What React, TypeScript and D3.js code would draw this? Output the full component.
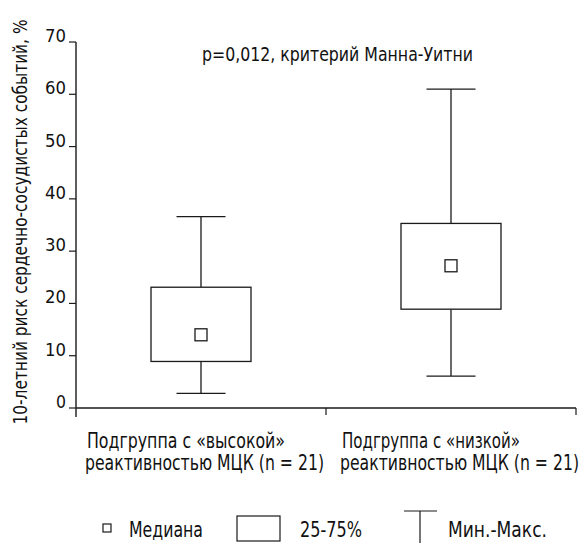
import React from 'react';
import * as d3 from 'd3';

// data
const groups = ['high', 'low'];
const groupLine1 = ['Подгруппа с «высокой»', 'Подгруппа с «низкой»'];
const groupLine2 = ['реактивностью МЦК (n = 21)', 'реактивностью МЦК (n = 21)'];
const mins = [2.8, 6.1];
const q1s = [8.9, 18.9];
const medians = [14.0, 27.2];
const q3s = [23.1, 35.3];
const maxs = [36.6, 61.0];
const yTicks = [0, 10, 20, 30, 40, 50, 60, 70];

const W = 582;
const H = 543;
const FONT = "'DejaVu Sans Condensed', 'DejaVu Sans', sans-serif";

// squeeze text to the width it takes in the reference (condensed face)
const T = ({ w, children, ...rest }: any) => (
  <text textLength={w} lengthAdjust="spacingAndGlyphs" {...rest}>{children}</text>
);

const App = () => {
  const margin = { top: 42, right: 6, bottom: 135, left: 76 };

  const y = d3.scaleLinear()
    .domain([0, 70])
    .range([H - margin.bottom, margin.top]);

  const x = d3.scaleBand()
    .domain(groups)
    .range([margin.left, W - margin.right])
    .padding(0);

  const boxW = 100;
  const capW = 49;
  const medS = 12;
  const stroke = '#1a1a1a';
  const y0 = y(0);
  const labelX = [85, 340];

  return (
    <svg width={W} height={H} style={{ position: 'absolute', left: 0, top: 0 }} fontFamily={FONT} fontStretch="condensed">
      <rect width={W} height={H} fill="#fff" />

      {/* y axis */}
      <line x1={margin.left} x2={margin.left} y1={y(70)} y2={y0 + 9} stroke={stroke} strokeWidth={1.4} />
      {yTicks.map(t => (
        <g key={t}>
          <line x1={margin.left - 7} x2={margin.left} y1={y(t)} y2={y(t)} stroke={stroke} strokeWidth={1.2} />
          <T x={margin.left - 10} y={y(t)} w={t === 0 ? 10 : 21} textAnchor="end" fontSize={18} fill="#111">{t}</T>
        </g>
      ))}
      <T w={405} transform={`translate(27,${222}) rotate(-90)`} textAnchor="middle" fontSize={20} fill="#111">
        10-летний риск сердечно-сосудистых событий, %
      </T>

      {/* x axis */}
      <line x1={margin.left} x2={W - margin.right} y1={y0} y2={y0} stroke={stroke} strokeWidth={1.4} />
      {groups.map(g => (
        <line key={g} x1={x(g)! + x.bandwidth()} x2={x(g)! + x.bandwidth()} y1={y0} y2={y0 + 7} stroke={stroke} strokeWidth={1.2} />
      ))}

      {/* boxes */}
      {groups.map((g, i) => {
        const cx = x(g)! + x.bandwidth() / 2;
        return (
          <g key={g} stroke={stroke} strokeWidth={1.3} fill="none">
            <line x1={cx} x2={cx} y1={y(maxs[i])} y2={y(q3s[i])} />
            <line x1={cx} x2={cx} y1={y(q1s[i])} y2={y(mins[i])} />
            <line x1={cx - capW / 2} x2={cx + capW / 2} y1={y(maxs[i])} y2={y(maxs[i])} />
            <line x1={cx - capW / 2} x2={cx + capW / 2} y1={y(mins[i])} y2={y(mins[i])} />
            <rect x={cx - boxW / 2} y={y(q3s[i])} width={boxW} height={y(q1s[i]) - y(q3s[i])} fill="#fff" />
            <rect x={cx - medS / 2} y={y(medians[i]) - medS / 2} width={medS} height={medS} fill="#fff" />
          </g>
        );
      })}

      {/* category labels */}
      {groups.map((g, i) => (
        <g key={g} fontSize={21} fill="#111">
          <T x={labelX[i] + 2} y={448} w={i === 0 ? 198 : 178}>{groupLine1[i]}</T>
          <T x={labelX[i]} y={470} w={239}>{groupLine2[i]}</T>
        </g>
      ))}

      <T x={202} y={61} w={271} fontSize={20} fill="#111">p=0,012, критерий Манна-Уитни</T>

      {/* legend */}
      <g fontSize={21} fill="#111">
        <rect x={103} y={524} width={8} height={8} fill="#fff" stroke={stroke} strokeWidth={1.2} />
        <T x={129} y={537} w={74}>Медиана</T>
        <rect x={237} y={516} width={43} height={25} fill="#fff" stroke={stroke} strokeWidth={1.2} />
        <T x={300} y={537} w={62}>25-75%</T>
        <line x1={404} x2={437} y1={511} y2={511} stroke={stroke} strokeWidth={1.2} />
        <line x1={420} x2={420} y1={511} y2={543} stroke={stroke} strokeWidth={1.2} />
        <T x={448} y={537} w={99}>Мин.-Макс.</T>
      </g>
    </svg>
  );
};

export default App;
